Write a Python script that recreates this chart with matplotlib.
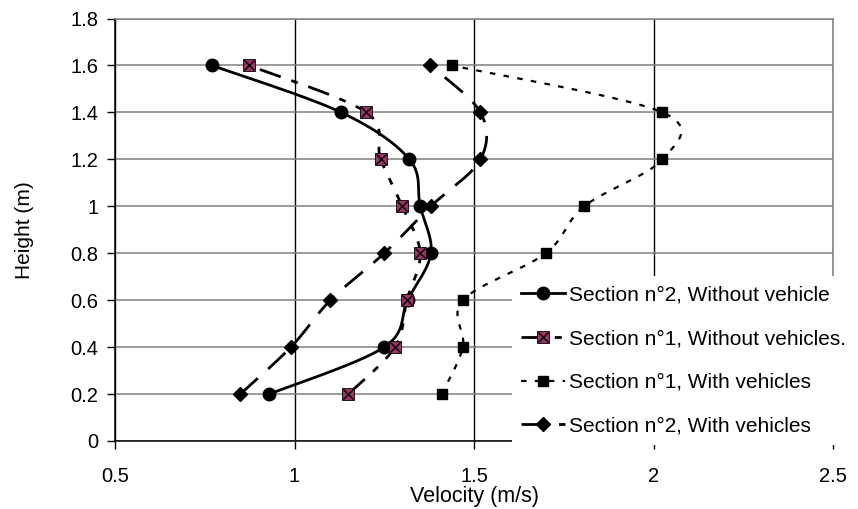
import numpy as np
import matplotlib
matplotlib.use("Agg")
import matplotlib.pyplot as plt
from matplotlib.legend_handler import HandlerTuple

plt.rcParams['font.family'] = ['Liberation Sans', 'DejaVu Sans']
plt.rcParams['lines.scale_dashes'] = False

# ---- data ----
heights = [0.2, 0.4, 0.6, 0.8, 1.0, 1.2, 1.4, 1.6]
sec2_without = [0.93, 1.25, 1.315, 1.38, 1.35, 1.32, 1.13, 0.77]
sec1_without = [1.15, 1.28, 1.313, 1.35, 1.30, 1.24, 1.20, 0.872]
sec1_with = [1.41, 1.469, 1.469, 1.70, 1.807, 2.025, 2.025, 1.438]
sec2_with = [0.849, 0.99, 1.10, 1.25, 1.38, 1.518, 1.518, 1.378]

labels = ["Section n°2, Without vehicle",
          "Section n°1, Without vehicles.",
          "Section n°1, With vehicles",
          "Section n°2, With vehicles"]
xticks = [0.5, 1, 1.5, 2, 2.5]
xticklabels = ["0.5", "1", "1.5", "2", "2.5"]
yticks = [0, 0.2, 0.4, 0.6, 0.8, 1.0, 1.2, 1.4, 1.6, 1.8]
yticklabels = ["0", "0.2", "0.4", "0.6", "0.8", "1", "1.2", "1.4", "1.6", "1.8"]
purple = "#993366"


def smooth(x, y, n=30):
    """Excel-like smoothed line (cubic Bezier through the points)."""
    P = np.column_stack([x, y]).astype(float)
    out = []
    for i in range(len(P) - 1):
        p0 = P[i - 1] if i > 0 else P[i]
        p1 = P[i]
        p2 = P[i + 1]
        p3 = P[i + 2] if i + 2 < len(P) else P[i + 1]
        c1 = p1 + (p2 - p0) / 6.0
        c2 = p2 - (p3 - p1) / 6.0
        t = np.linspace(0, 1, n)[:, None]
        seg = (1 - t) ** 3 * p1 + 3 * (1 - t) ** 2 * t * c1 + 3 * (1 - t) * t ** 2 * c2 + t ** 3 * p2
        out.append(seg if i == 0 else seg[1:])
    arr = np.vstack(out)
    return arr[:, 0], arr[:, 1]


fig = plt.figure(figsize=(8.58, 5.09), dpi=100)
W, H = 858, 509
x0, x1, y0, y1 = 115, 833, 18.5, 441
ax = fig.add_axes([x0 / W, 1 - y1 / H, (x1 - x0) / W, (y1 - y0) / H])

ax.set_xlim(0.5, 2.5)
ax.set_ylim(0, 1.8)
ax.set_axisbelow(True)
ax.yaxis.grid(True, color="#808080", linewidth=1.1)
ax.xaxis.grid(True, color="black", linewidth=1.0)
for s in ["top", "right"]:
    ax.spines[s].set_color("#808080")
    ax.spines[s].set_linewidth(1.1)
for s in ["left", "bottom"]:
    ax.spines[s].set_color("black")
    ax.spines[s].set_linewidth(1.1)

ax.set_xticks(xticks)
ax.set_xticklabels(xticklabels)
ax.set_yticks(yticks)
ax.set_yticklabels(yticklabels)
ax.tick_params(axis="both", direction="out", length=6, width=1, color="black",
               labelsize=14.5)
ax.tick_params(axis="x", pad=12.5)
ax.tick_params(axis="y", pad=6)
ax.set_xlabel("Velocity (m/s)", fontsize=15.5, labelpad=0)
ax.set_ylabel("Height (m)", fontsize=15, labelpad=26)

lw = 2.0
# Section n°2, without vehicle: solid, circles
sx, sy = smooth(sec2_without, heights)
ax.plot(sx, sy, color="black", lw=lw, solid_capstyle="butt", zorder=3)
ax.plot(sec2_without, heights, ls="none", marker="o", ms=9, color="black", zorder=4)
h1 = ax.plot([], [], color="black", lw=lw, marker="o", ms=9)[0]

# Section n°1, without vehicles: dash-dot, purple box-x
dd = (0, (16, 8, 5, 8))
sx, sy = smooth(sec1_without, heights)
ax.plot(sx, sy, color="black", lw=lw, ls=dd, dash_capstyle="butt", zorder=3)
ax.plot(sec1_without, heights, ls="none", marker="s", ms=8, mfc=purple,
        mec="black", mew=0.6, zorder=4)
ax.plot(sec1_without, heights, ls="none", marker="x", ms=7.5, mec="black",
        mew=1.0, zorder=5)
h2a = ax.plot([], [], color="black", lw=lw, ls=dd, marker="s", ms=8,
              mfc=purple, mec="black", mew=0.6)[0]
h2b = ax.plot([], [], ls="none", marker="x", ms=7.5, mec="black", mew=1.0)[0]

# Section n°1, with vehicles: dotted, squares
dt = (0, (4, 6))
sx, sy = smooth(sec1_with, heights)
ax.plot(sx, sy, color="black", lw=1.6, ls=dt, dash_capstyle="butt", zorder=3)
ax.plot(sec1_with, heights, ls="none", marker="s", ms=7, color="black", zorder=4)
h3 = ax.plot([], [], color="black", lw=1.6, ls=dt, marker="s", ms=7)[0]

# Section n°2, with vehicles: dashed, diamonds
ds = (0, (17, 10))
sx, sy = smooth(sec2_with, heights)
ax.plot(sx, sy, color="black", lw=lw, ls=ds, dash_capstyle="butt", zorder=3)
ax.plot(sec2_with, heights, ls="none", marker="D", ms=7.5, color="black", zorder=4)
h4 = ax.plot([], [], color="black", lw=lw, ls=ds, marker="D", ms=7.5)[0]

leg = fig.legend([h1, (h2a, h2b), h3, h4], labels,
                 handler_map={tuple: HandlerTuple(ndivide=1)},
                 loc="upper left", bbox_to_anchor=(512 / W, 1 - 276 / H),
                 bbox_transform=fig.transFigure, borderaxespad=0,
                 fontsize=15, frameon=True, fancybox=False,
                 facecolor="white", edgecolor="white", framealpha=1,
                 handlelength=2.1, handletextpad=0.2, labelspacing=1.19,
                 borderpad=0.45)
leg.get_frame().set_linewidth(0)

fig.savefig("out.png", dpi=100)
